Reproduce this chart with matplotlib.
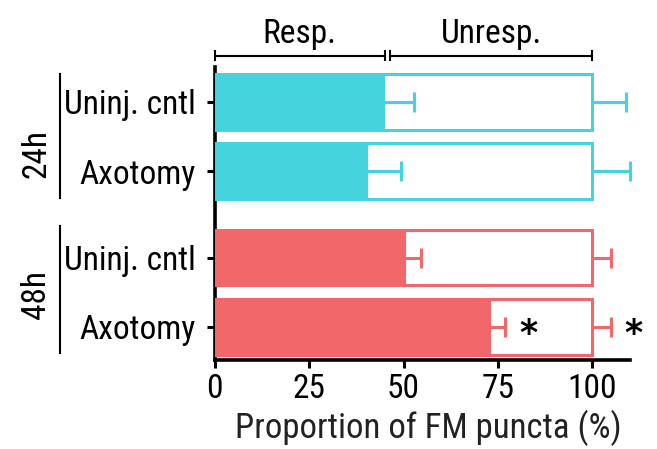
import matplotlib.pyplot as plt
from matplotlib.transforms import blended_transform_factory

plt.rcParams['font.family'] = ['Roboto Condensed', 'Archivo Narrow', 'Liberation Sans', 'DejaVu Sans']

# proportion of responsive puncta (%) and SEM, one entry per row
labels = ['Uninj. cntl', 'Axotomy', 'Uninj. cntl', 'Axotomy']
resp = [44.5, 40, 50, 72.5]
resp_err = [8.3, 9.3, 4.5, 4.5]
total = [100, 100, 100, 100]
total_err = [9, 10, 5, 5]
groups = ['24h', '48h']
signif = [False, False, False, True]

cyan = '#45d3dd'
red = '#f2686a'
colors = [cyan, cyan, red, red]
ypos = [0, 1, 2.25, 3.25]

fig = plt.figure(figsize=(6.57, 4.49), dpi=100)
ax = fig.add_axes([0.327, 0.198, 0.632, 0.652])

lw = 2.2
fs = 24
for y, r, re, t, te, c, s in zip(ypos, resp, resp_err, total, total_err, colors, signif):
    # unresponsive part: open box up to 100 %
    ax.barh(y, t - r, left=r, height=0.8, color='white', edgecolor=c, linewidth=lw, zorder=2)
    ax.barh(y, r, height=0.8, color=c, edgecolor=c, linewidth=lw, zorder=3)
    ax.errorbar(r, y, xerr=[[0], [re]], color=c, lw=lw, capsize=7, capthick=lw, zorder=4)
    ax.errorbar(t, y, xerr=[[0], [te]], color=c, lw=lw, capsize=7, capthick=lw, zorder=1,
                clip_on=False)
    if s:
        ax.text(r + re + 6, y + 0.1, '*', fontsize=25, fontweight='bold', ha='center', va='center',
                family='DejaVu Sans')
        ax.text(t + te + 6, y + 0.1, '*', fontsize=25, fontweight='bold', ha='center', va='center',
                family='DejaVu Sans', clip_on=False)

ax.set_xlim(0, 110)
ax.set_ylim(3.73, -0.5)
ax.set_xticks([0, 25, 50, 75, 100])
ax.set_yticks(ypos)
ax.set_yticklabels(labels)
ax.tick_params(labelsize=fs, width=lw, length=6, pad=3)
ax.tick_params(axis='y', pad=8)
ax.set_xlabel('Proportion of FM puncta (%)', fontsize=25, labelpad=2, color='#222222')
ax.xaxis.set_label_coords(0.515, -0.17)
for side in ['top', 'right']:
    ax.spines[side].set_visible(False)
for side in ['left', 'bottom']:
    ax.spines[side].set_linewidth(2.6)

# brackets above the bars
tr = blended_transform_factory(ax.transData, ax.transAxes)
for x0, x1, name in [(0, 45, 'Resp.'), (46.5, 100, 'Unresp.')]:
    ax.plot([x0, x1], [1.04, 1.04], color='black', lw=1.5, transform=tr, clip_on=False)
    for x in (x0, x1):
        ax.plot([x, x], [1.025, 1.055], color='black', lw=1.5, transform=tr, clip_on=False)
    ax.text((x0 + x1) / 2, 1.06, name, fontsize=fs, ha='center', va='bottom', transform=tr)

# time-point group labels on the left
for name, y0, y1, ty in [('24h', 0.976, 0.554, 0.705), ('48h', 0.458, 0.024, 0.224)]:
    ax.plot([-0.373, -0.373], [y0, y1], color='black', lw=1.5, transform=ax.transAxes, clip_on=False)
    ax.text(-0.43, ty, name, fontsize=fs, rotation=90, ha='center', va='center',
            transform=ax.transAxes)

fig.savefig('out.png', dpi=100)
